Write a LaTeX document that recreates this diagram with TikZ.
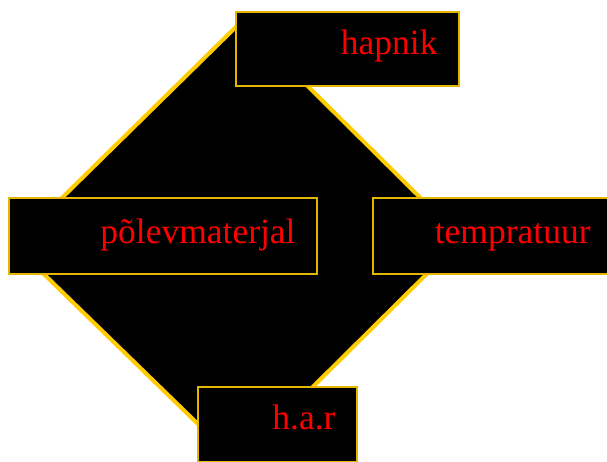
\documentclass[tikz,border=0pt]{standalone}
\usepackage{fontspec}
\setmainfont{Liberation Serif}
\definecolor{rimgold}{RGB}{255,204,0}
\definecolor{boxgold}{RGB}{228,182,0}
\definecolor{labelred}{RGB}{255,0,0}
\begin{document}
\begin{tikzpicture}[x=1pt,y=-1pt,
  panel/.style={draw=boxgold, fill=black, line width=1.5pt, inner sep=0pt},
  label/.style={text=labelred, inner sep=0pt, anchor=base east,
    font=\fontsize{35.5}{40}\selectfont}]
  \useasboundingbox (0,0) rectangle (607,461);
  % central black quadrilateral with a gold rim
  \coordinate (qtop) at (242,21);
  \coordinate (qright) at (462,239);
  \coordinate (qbottom) at (237,462);
  \coordinate (qleft) at (14,245);
  \draw[draw=rimgold, fill=black, line width=4pt, line join=miter]
    (qtop) -- (qright) -- (qbottom) -- (qleft) -- cycle;
  % labelled panels
  \node[panel, minimum width=223pt, minimum height=74pt] (hapnik) at (347.5,49) {};
  \node[panel, minimum width=308pt, minimum height=76pt] (fuel) at (163,236) {};
  \node[panel, minimum width=239pt, minimum height=76pt] (temp) at (492.5,236) {};
  \node[panel, minimum width=159pt, minimum height=75pt] (har) at (277.5,424.5) {};
  \node[label] (hapniktext) at ([xshift=-22pt,yshift=-5pt]hapnik.east) {hapnik};
  \node[label] (fueltext) at ([xshift=-22pt,yshift=-7pt]fuel.east) {põlevmaterjal};
  \node[label] (temptext) at ([xshift=-22pt,yshift=-7pt]temp.east) {tempratuur};
  \node[label] (hartext) at ([xshift=-22pt,yshift=-5pt]har.east) {h.a.r};
\end{tikzpicture}
\end{document}
